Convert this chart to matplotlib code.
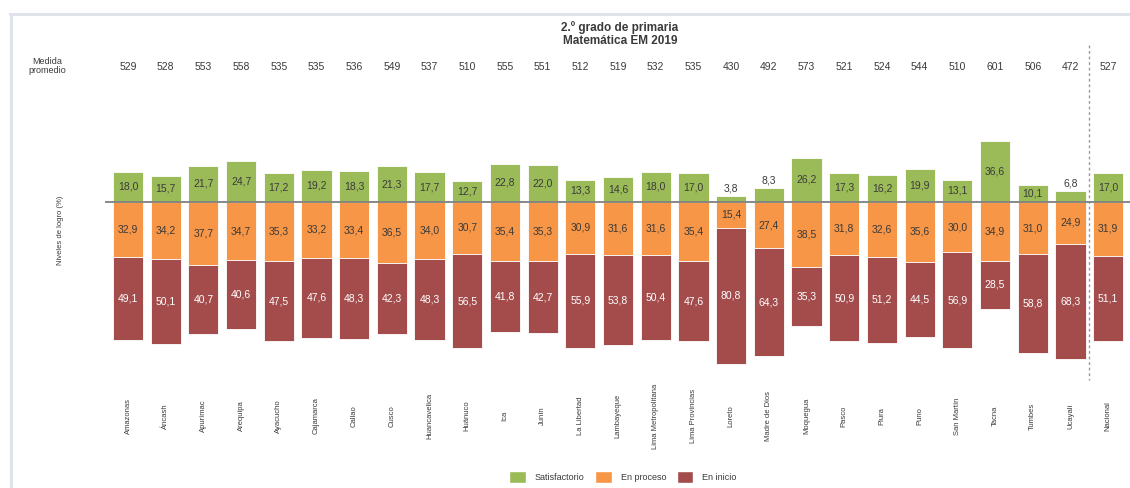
import matplotlib.pyplot as plt
import matplotlib.transforms as mtransforms
import numpy as np
from matplotlib.lines import Line2D
from matplotlib.patches import Patch

plt.rcParams["font.family"] = ["Liberation Sans", "DejaVu Sans"]

regiones = [
    "Amazonas", "Áncash", "Apurímac", "Arequipa", "Ayacucho", "Cajamarca", "Callao",
    "Cusco", "Huancavelica", "Huánuco", "Ica", "Junín", "La Libertad", "Lambayeque",
    "Lima Metropolitana", "Lima Provincias", "Loreto", "Madre de Dios", "Moquegua",
    "Pasco", "Piura", "Puno", "San Martín", "Tacna", "Tumbes", "Ucayali", "Nacional",
]
medida = [529, 528, 553, 558, 535, 535, 536, 549, 537, 510, 555, 551, 512, 519,
          532, 535, 430, 492, 573, 521, 524, 544, 510, 601, 506, 472, 527]
satisfactorio = [18.0, 15.7, 21.7, 24.7, 17.2, 19.2, 18.3, 21.3, 17.7, 12.7, 22.8, 22.0, 13.3, 14.6,
                 18.0, 17.0, 3.8, 8.3, 26.2, 17.3, 16.2, 19.9, 13.1, 36.6, 10.1, 6.8, 17.0]
en_proceso = [32.9, 34.2, 37.7, 34.7, 35.3, 33.2, 33.4, 36.5, 34.0, 30.7, 35.4, 35.3, 30.9, 31.6,
              31.6, 35.4, 15.4, 27.4, 38.5, 31.8, 32.6, 35.6, 30.0, 34.9, 31.0, 24.9, 31.9]
en_inicio = [49.1, 50.1, 40.7, 40.6, 47.5, 47.6, 48.3, 42.3, 48.3, 56.5, 41.8, 42.7, 55.9, 53.8,
             50.4, 47.6, 80.8, 64.3, 35.3, 50.9, 51.2, 44.5, 56.9, 28.5, 58.8, 68.3, 51.1]

c_sat = "#9bbb59"
c_pro = "#f79646"
c_ini = "#a44c4c"
c_txt = "#3a3a3a"


def fmt(v):
    return f"{v:.1f}".replace(".", ",")


W, H = 1130, 488
fig = plt.figure(figsize=(W / 100, H / 100), dpi=100)
fig.set_facecolor("white")

# frame lines (top and left)
fig.add_artist(Line2D([10 / W, 1], [1 - 14 / H, 1 - 14 / H], color="#dfe3ea", lw=2.2))
fig.add_artist(Line2D([11 / W, 11 / W], [0, 1 - 14 / H], color="#dfe3ea", lw=2.2))

ax = fig.add_axes([105 / W, (H - 370) / H, 1025 / W, 240 / H])
x = np.arange(len(regiones))
sat = np.array(satisfactorio)
pro = np.array(en_proceso)
ini = np.array(en_inicio)

ax.bar(x, sat, width=0.8, color=c_sat, edgecolor="white", linewidth=0.6)
ax.bar(x, -pro, width=0.8, color=c_pro, edgecolor="white", linewidth=0.6)
ax.bar(x, -ini, bottom=-pro, width=0.8, color=c_ini, edgecolor="white", linewidth=0.6)
ax.axhline(0, color="#7f7f7f", lw=1.3, zorder=5)

for i in x:
    if sat[i] < 9:
        ax.text(i, sat[i] + 1.5, fmt(sat[i]), ha="center", va="bottom", fontsize=7.5, color=c_txt)
    else:
        ax.text(i, sat[i] / 2, fmt(sat[i]), ha="center", va="center", fontsize=7.5, color=c_txt)
    ax.text(i, -pro[i] / 2, fmt(pro[i]), ha="center", va="center", fontsize=7.5, color=c_txt)
    ax.text(i, -pro[i] - ini[i] / 2, fmt(ini[i]), ha="center", va="center", fontsize=7.5, color="white")

ax.set_xlim(-0.61, 26.58)
ax.set_ylim(-100, 42.86)
ax.axis("off")

trans = mtransforms.blended_transform_factory(ax.transData, fig.transFigure)
for i in x:
    ax.text(i, 1 - 67 / H, str(medida[i]), transform=trans, ha="center", va="center",
            fontsize=7.5, color=c_txt)
    ax.text(i, 1 - 416 / H, regiones[i], transform=trans, ha="center", va="center",
            rotation=90, fontsize=5.5, color=c_txt)

# separator before Nacional
ax.add_line(Line2D([25.5, 25.5], [1 - 45 / H, 1 - 380 / H], transform=trans, color="#999999",
                   lw=1, linestyle=(0, (2, 2)), clip_on=False))

fig.text(620 / W, 1 - 28 / H, "2.º grado de primaria", ha="center", va="center",
         fontsize=8.5, fontweight="bold", color=c_txt)
fig.text(620 / W, 1 - 41 / H, "Matemática EM 2019", ha="center", va="center",
         fontsize=8.5, fontweight="bold", color=c_txt)
fig.text(47 / W, 1 - 66 / H, "Medida\npromedio", ha="center", va="center",
         fontsize=6.5, color=c_txt, linespacing=0.9)
fig.text(60 / W, 1 - 230 / H, "Niveles de logro (%)", ha="center", va="center",
         rotation=90, fontsize=5.5, color=c_txt)

handles = [Patch(facecolor=c_sat, edgecolor="white", label="Satisfactorio"),
           Patch(facecolor=c_pro, edgecolor="white", label="En proceso"),
           Patch(facecolor=c_ini, edgecolor="white", label="En inicio")]
fig.legend(handles=handles, loc="center", bbox_to_anchor=(623 / W, 1 - 477 / H), ncol=3,
           frameon=False, fontsize=6.5, handlelength=1.8, handleheight=1.6,
           columnspacing=1.2, handletextpad=1.0, labelcolor=c_txt)

fig.savefig("out.png", dpi=100, facecolor="white")
